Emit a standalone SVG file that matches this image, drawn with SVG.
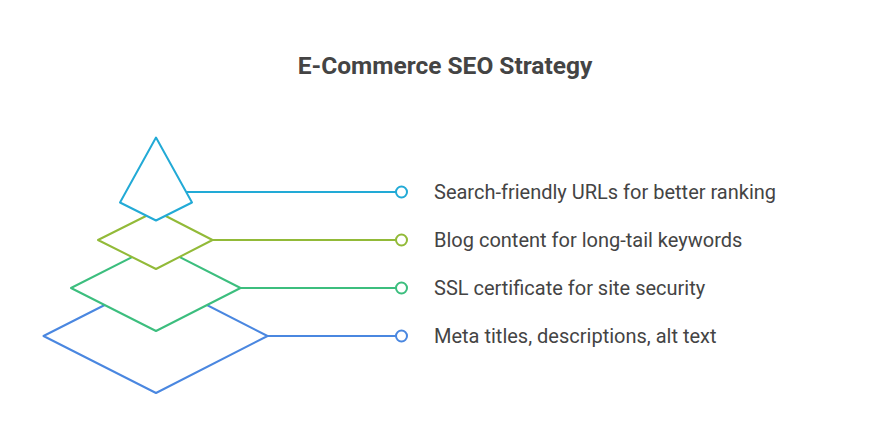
<svg xmlns="http://www.w3.org/2000/svg" width="888" height="422" viewBox="0 0 888 422">
<style>
.s{fill:#fff;stroke-width:2;stroke-linejoin:round}
.c{fill:none;stroke-width:2}
.d{fill:#fff;stroke-width:2}
.t{font-family:Roboto,"Liberation Sans",sans-serif;font-size:20px;fill:#444}
.h{font-family:Roboto,"Liberation Sans",sans-serif;font-size:24.5px;font-weight:bold;fill:#444}
</style>
<rect width="888" height="422" fill="#fff"/>
<text class="h" x="445" y="73.5" text-anchor="middle">E-Commerce SEO Strategy</text>
<g id="layer4"><polygon class="s" stroke="#4A87E0" points="156,279 267.5,336 156,393 43.5,336"/></g>
<g id="layer3"><polygon class="s" stroke="#3CBE7E" points="156,245 240.5,288 156,331 71,288"/></g>
<g id="layer2"><polygon class="s" stroke="#92BA38" points="156,211 212.5,240 156,269 98,240"/></g>
<g id="layer1"><polygon class="s" stroke="#22AAD6" points="156,137.5 192,202.5 156,220.5 120,202.5"/></g>
<g id="connectors">
<line class="c" stroke="#22AAD6" x1="186.5" y1="192" x2="396" y2="192"/>
<circle class="d" stroke="#22AAD6" cx="401.5" cy="192" r="5.5"/>
<line class="c" stroke="#92BA38" x1="212.5" y1="240" x2="396" y2="240"/>
<circle class="d" stroke="#92BA38" cx="401.5" cy="240" r="5.5"/>
<line class="c" stroke="#3CBE7E" x1="240.5" y1="288" x2="396" y2="288"/>
<circle class="d" stroke="#3CBE7E" cx="401.5" cy="288" r="5.5"/>
<line class="c" stroke="#4A87E0" x1="267.5" y1="336" x2="396" y2="336"/>
<circle class="d" stroke="#4A87E0" cx="401.5" cy="336" r="5.5"/>
</g>
<g id="labels">
<text class="t" x="434" y="198.5">Search-friendly URLs for better ranking</text>
<text class="t" x="434" y="246.5">Blog content for long-tail keywords</text>
<text class="t" x="434" y="294.5">SSL certificate for site security</text>
<text class="t" x="434" y="342.5">Meta titles, descriptions, alt text</text>
</g>
</svg>
